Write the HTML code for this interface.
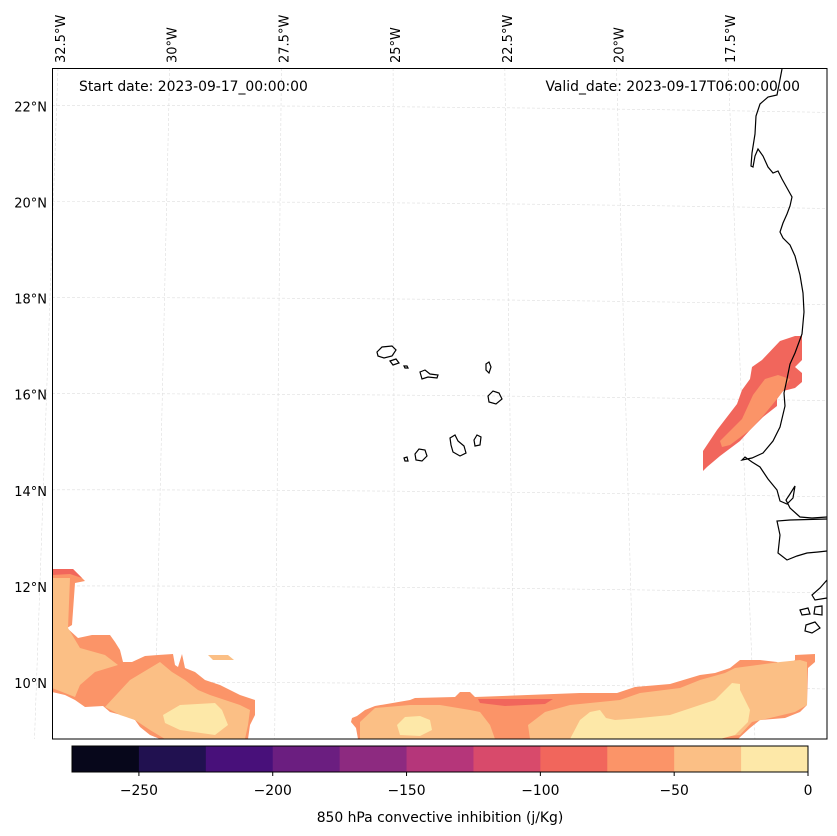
<!DOCTYPE html>
<html><head><meta charset="utf-8"><style>
html,body{margin:0;padding:0;background:#fff;}
svg{display:block;font-family:"DejaVu Sans","Liberation Sans",sans-serif;}
</style></head><body>
<svg id="c" width="837" height="836" viewBox="0 0 837 836">
<rect width="837" height="836" fill="#fff"/>
<g id="grid"></g>
<g>
 <polygon fill="#fb9468" points="52,569 73,569 85,581 75,583 72,625 67,628 78,638 92,635 110,635 115,642 120,650 123,662 132,662 145,656 158,655 173,654 175,665 178,667 182,654 185,668 195,672 205,680 220,685 240,695 255,700 255,715 250,725 248,739 160,739 150,735 140,727 135,720 125,716 110,712 103,706 85,707 75,700 65,695 52,692"/>
 <polygon fill="#f1665c" points="52,569 73,569 82,578 70,574 52,575"/>
 <polygon fill="#fbbf85" points="52,578 70,578 68,628 80,648 105,655 118,665 95,672 80,685 75,697 52,688"/>
 <polygon fill="#fbbf85" points="105,707 130,680 150,668 160,662 172,672 185,680 198,690 210,695 225,700 240,705 250,710 248,725 245,739 165,739 150,730 135,720 120,715"/>
 <polygon fill="#fbbf85" points="208,655 228,655 234,660 213,660"/>
 <polygon fill="#fde8a8" points="163,715 180,705 215,703 222,710 228,725 215,735 180,730 165,723"/>
 <polygon fill="#fb9468" points="352,718 357,716 365,710 375,706 410,700 415,698 455,697 460,692 470,692 475,697 580,693 617,693 635,687 670,684 700,675 715,673 730,668 740,660 760,660 777,662 785,667 795,660 795,655 815,654 815,662 808,668 807,705 800,712 785,718 760,720 750,728 738,739 358,739 356,728 351,722"/>
 <polygon fill="#f1665c" points="478,699 553,699 545,704 505,706 480,703"/>
 <polygon fill="#fbbf85" points="360,722 375,708 410,705 440,705 470,710 480,712 490,725 495,739 360,739"/>
 <polygon fill="#fbbf85" points="530,739 528,725 545,712 570,705 620,700 640,693 680,688 700,680 725,673 735,668 780,662 800,660 807,662 807,705 795,712 770,718 752,722 740,735 700,739"/>
 <polygon fill="#fde8a8" points="397,725 405,717 420,716 430,720 432,730 420,736 400,735"/>
 <polygon fill="#fde8a8" points="570,739 580,720 590,712 600,710 606,718 615,720 640,718 670,715 700,705 715,700 725,690 732,683 740,684 740,690 745,700 750,710 748,722 735,735 720,739"/>
 <polygon fill="#f1665c" points="703,471 703,451 717,430 737,404 742,390 750,379 752,367 762,360 780,341 795,336 802,336 802,360 795,367 802,373 802,382 795,388 783,391 777,399 777,406 763,417 750,430 740,441 720,456 707,467"/>
 <polygon fill="#fb9468" points="720,441 742,419 753,395 765,379 778,375 790,379 783,391 777,399 763,416 750,430 730,445 722,447"/>
</g>
<g fill="none" stroke="#000" stroke-width="1.2">
 <polyline points="782,69 777,95 768,97 760,104 756,116 755,134 752,153 751,166 753,167 755,156 758,149 763,156 768,167 773,173 778,171 782,179 787,188 792,197 790,206 787,214 783,223 780,232 783,238 790,245 795,256 800,275 803,293 804,312 802,334 795,353 790,364 787,379 784,393 785,406 780,427 773,441 763,453 752,458 742,460 745,457 752,462 760,467 768,479 777,490 780,501 787,504 793,498 795,486 790,494 786,500 790,508 800,517 812,518 827,517"/>
 <polyline points="827,519 790,520 777,521 780,535 778,553 787,560 797,556 807,553 818,552 827,551"/>
 <polyline points="827,580 820,588 812,595 815,600 827,598"/>
 <polygon points="800,610 808,608 810,614 802,615"/>
 <polygon points="815,607 822,606 822,615 814,614"/>
 <polygon points="806,625 815,622 820,628 812,633 805,631"/>
 <polygon points="377,352 382,347 392,346 396,350 392,356 384,358 378,356"/>
 <polygon points="390,361 396,359 399,363 393,365"/>
 <polygon points="404,366 407,366 408,368 405,368"/>
 <polygon points="420,372 425,370 430,374 438,375 437,378 428,377 422,379"/>
 <polygon points="486,364 489,362 491,367 489,373 486,370"/>
 <polygon points="488,396 493,391 499,393 502,399 496,404 489,402"/>
 <polygon points="474,440 477,435 481,437 480,445 475,446"/>
 <polygon points="450,438 455,435 458,441 464,446 466,453 460,456 453,452 451,445"/>
 <polygon points="415,454 419,449 425,450 427,456 422,461 416,460"/>
 <polygon points="404,458 407,457 408,461 405,461"/>
</g>
<rect x="52.5" y="68.5" width="774.5" height="670.5" fill="none" stroke="#000" stroke-width="1"/>
<text x="79" y="91" font-size="13.9">Start date: 2023-09-17_00:00:00</text>
<text x="800" y="91" font-size="13.9" text-anchor="end">Valid_date: 2023-09-17T06:00:00.00</text>
<g id="lonlab"></g>
<g id="latlab"></g>
<g id="cbar"></g>
<text x="440" y="822" font-size="13.9" text-anchor="middle">850 hPa convective inhibition (j/Kg)</text>
</svg>
<script>
const levels = [-275,-250,-225,-200,-175,-150,-125,-100,-75,-50,-25,0];
const levelColors = ["#07071b","#211150","#48107a","#6b1e80","#8d2a80","#b5367a","#d84a6b","#f1665c","#fb9468","#fbbf85","#fde8a8"];
const cbTicks = [-250,-200,-150,-100,-50,0];
const cbTickLabels = ["\u2212250","\u2212200","\u2212150","\u2212100","\u221250","0"];
const latValues = [22,20,18,16,14,12,10];
const lonValues = [-32.5,-30,-27.5,-25,-22.5,-20,-17.5];
const NS="http://www.w3.org/2000/svg";
function mk(t,a,p){const e=document.createElementNS(NS,t);for(const k in a)e.setAttribute(k,a[k]);p.appendChild(e);return e;}
function latY(lat){return 683-(lat-10)*48.05;}
function lonXTop(lon){return 60+(lon+32.5)/2.5*111.7;}
function lonXBot(lon){const xt=lonXTop(lon);return xt+(xt-400)*0.075;}
const cb={x0:72,x1:808,y:746,h:26};
function cbX(v){return cb.x0+(v-levels[0])/(levels[levels.length-1]-levels[0])*(cb.x1-cb.x0);}
const grid=document.getElementById('grid');
latValues.forEach(lat=>{const y=latY(lat);
 const l=mk('path',{d:`M52,${y-1} Q440,${y-1} 827,${y+6}`,stroke:"#ddd","stroke-width":0.6,"stroke-dasharray":"3,2",fill:"none"},grid);
 
 
 const t=mk('text',{x:47,y:y+5,"font-size":13,"text-anchor":"end"},document.getElementById('latlab'));
 t.textContent=lat+"°N";
 
 
});
lonValues.forEach(lon=>{const xt=lonXTop(lon),xb=lonXBot(lon);
 const l=mk('line',{x1:xt-2,y1:68,x2:xb,y2:739,stroke:"#ddd","stroke-width":0.6,"stroke-dasharray":"3,2"},grid);
 
 
 const t=mk('text',{x:0,y:0,"font-size":13,transform:`translate(${xt+5},63) rotate(-90)`},document.getElementById('lonlab'));
 t.textContent=Math.abs(lon)+"°W";
 
 
});
const cbg=document.getElementById('cbar');
levelColors.forEach((c,i)=>{
 const r=mk('rect',{x:cbX(levels[i]),y:cb.y,width:cbX(levels[i+1])-cbX(levels[i])+0.5,height:cb.h,fill:c},cbg);
 
 
});
const fr=mk('rect',{x:cb.x0,y:cb.y,width:cb.x1-cb.x0,height:cb.h,fill:"none",stroke:"#000","stroke-width":1},cbg);


cbTicks.forEach((v,i)=>{const x=cbX(v);
 const tk=mk('line',{x1:x,y1:cb.y+cb.h,x2:x,y2:cb.y+cb.h+4,stroke:"#000"},cbg);
 
 
 const t=mk('text',{x:x,y:795,"font-size":13.9,"text-anchor":"middle"},cbg);
 t.textContent=cbTickLabels[i];
 
 
});
</script>
</body></html>
